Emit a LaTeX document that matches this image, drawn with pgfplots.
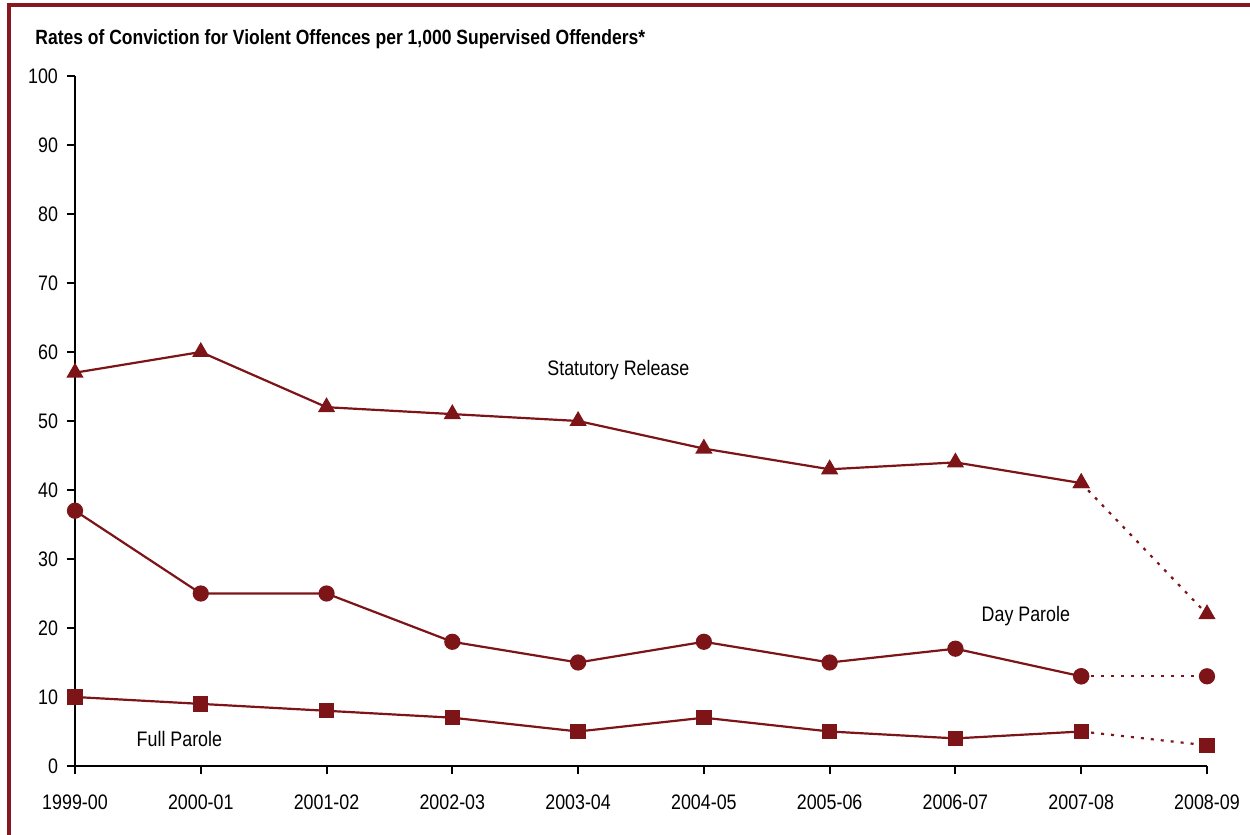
\documentclass[border=0pt]{standalone}
\usepackage{pgfplots}
\pgfplotsset{compat=1.18}
\usepackage{fontspec}
\setmainfont{Liberation Sans}[FakeStretch=0.85]
\definecolor{cscred}{RGB}{124,20,24}
\definecolor{framered}{RGB}{135,24,30}
\newcommand{\lbl}{\fontsize{10.5}{12}\selectfont}
\begin{document}
\begin{tikzpicture}
  \path[use as bounding box] (-37.5pt,-34.5pt) rectangle (587.5pt,383pt);
  \draw[framered, line width=1.6pt] (-33pt,-34.5pt) -- (-33pt,380.5pt) -- (587.5pt,380.5pt);
  \node[anchor=base west, inner sep=0pt, font=\fontsize{10.3}{12}\selectfont\bfseries] at (-20pt,360.5pt)
    {Rates of Conviction for Violent Offences per 1,000 Supervised Offenders*};
  \begin{axis}[
    scale only axis,
    width=566pt, height=345pt,
    xmin=0, xmax=9, ymin=0, ymax=100,
    axis lines=left,
    axis line style={-, line width=1pt},
    clip=false,
    xtick={0,...,9},
    xticklabels={1999-00,2000-01,2001-02,2002-03,2003-04,2004-05,2005-06,2006-07,2007-08,2008-09},
    ytick={0,10,...,100},
    tick align=outside,
    major tick length=4pt,
    tick style={line width=1pt, black},
    xticklabel style={font=\lbl, yshift=-7pt},
    yticklabel style={font=\lbl, xshift=-1pt},
    /pgf/number format/assume math mode=true,
    every axis plot/.append style={cscred, line width=1.1pt},
    ]
    % Statutory Release
    \addplot[mark=triangle*, mark size=3.9pt] coordinates {
      (0,57) (1,60) (2,52) (3,51) (4,50) (5,46) (6,43) (7,44) (8,41)
    };
    \addplot[dash pattern=on 1.5pt off 3.5pt, mark=triangle*, mark size=3.9pt, mark options={solid}] coordinates {
      (8,41) (9,22)
    };
    % Day Parole
    \addplot[mark=*, mark size=3.5pt] coordinates {
      (0,37) (1,25) (2,25) (3,18) (4,15) (5,18) (6,15) (7,17) (8,13)
    };
    \addplot[dash pattern=on 1.5pt off 3.5pt, mark=*, mark size=3.5pt, mark options={solid}] coordinates {
      (8,13) (9,13)
    };
    % Full Parole
    \addplot[mark=square*, mark size=3.3pt] coordinates {
      (0,10) (1,9) (2,8) (3,7) (4,5) (5,7) (6,5) (7,4) (8,5)
    };
    \addplot[dash pattern=on 1.5pt off 3.5pt, mark=square*, mark size=3.3pt, mark options={solid}] coordinates {
      (8,5) (9,3)
    };
    \node[font=\lbl] at (axis cs:4.32,57.4) {Statutory Release};
    \node[font=\lbl] at (axis cs:7.56,21.7) {Day Parole};
    \node[font=\lbl] at (axis cs:0.83,3.9) {Full Parole};
  \end{axis}
\end{tikzpicture}
\end{document}
